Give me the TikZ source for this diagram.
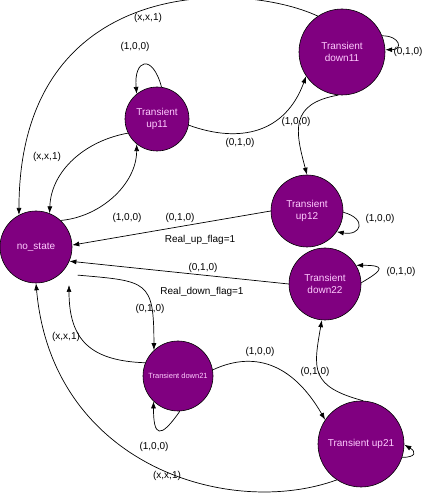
\documentclass[tikz,border=0pt]{standalone}
\usepackage{xcolor}
\usepackage{fontspec}
\setmainfont{Liberation Sans}
\usepackage{tikz}
\usetikzlibrary{arrows.meta}
\tikzset{every picture/.append style={font=\fontsize{10}{12.5}\selectfont}}
\definecolor{statepurple}{HTML}{800080}
\definecolor{statepink}{HTML}{FFCCFF}
\tikzset{
  statenode/.style={circle,draw=black,line width=0.6pt,fill=statepurple,text=statepink,align=center,inner sep=0pt},
  trans/.style={-{Latex[length=7pt,width=5pt]},line width=0.7pt},
  lbl/.style={inner sep=1pt}
}

\begin{document}
\begin{tikzpicture}[x=1pt,y=1pt]
    \useasboundingbox (0,0) rectangle (425,495);
    \node[statenode,minimum size=72pt] (nostate) at (36,248) {no\_state};
    \node[statenode,minimum size=64pt] (up11) at (157,376) {Transient\\up11};
    \node[statenode,minimum size=86pt] (down11) at (342,443) {Transient\\down11};
    \node[statenode,minimum size=72pt] (up12) at (307,284) {Transient\\up12};
    \node[statenode,minimum size=72pt] (down22) at (325,211) {Transient\\down22};
    \node[statenode,minimum size=70pt,font=\fontsize{7.5}{9}\selectfont] (down21) at (178,119) {Transient down21};
    \node[statenode,minimum size=86pt] (up21) at (361,51) {Transient up21};
    % transitions
    \draw[trans] (down11.124) to[out=155,in=90,out distance=85pt,in distance=240pt] (nostate.118);
    \draw[trans] (up11.82) to[out=105,in=95,distance=35pt] (up11.129);
    \draw[trans] (up11.206) to[out=190,in=88,distance=43pt] (nostate.68);
    \draw[trans] (nostate.47) to[out=5,in=270,distance=40pt] (up11.231);
    \draw[trans] (up11.-11) to[out=-20,in=250,out distance=55pt,in distance=60pt] (down11.214);
    \draw[trans] (down11.22) to[out=0,in=0,distance=18pt] (down11.3);
    \draw[trans] (down11.265) to[out=190,in=105,out distance=50pt,in distance=45pt] (up12.90);
    \draw[trans] (up12.180) -- (nostate.3);
    \draw[trans] (up12.-2) to[out=-15,in=-10,distance=25pt] (up12.-35);
    \draw[trans] (down22.180) -- (nostate.-23);
    \draw[trans] (down22.2) to[out=30,in=0,distance=28pt] (down22.31);
    \draw[trans] ([shift={(-34:14pt)}]nostate.-34) to[out=-5,in=90,distance=70pt] (down21.133);
    \draw[trans] (down21.158) to[out=178,in=-90,distance=55pt] ([shift={(-49:14pt)}]nostate.-49);
    \draw[trans] (down21.273) to[out=235,in=270,distance=35pt] (down21.226);
    \draw[trans] (down21.10) to[out=25,in=120,out distance=50pt,in distance=60pt] (up21.146);
    \draw[trans] (up21.87) to[out=165,in=-100,out distance=55pt,in distance=50pt] (down22.265);
    \draw[trans] (up21.-18) to[out=0,in=-30,distance=14pt] (up21.-1);
    \draw[trans] (up21.236) to[out=200,in=-85,out distance=114pt,in distance=183pt] (nostate.270);
    % labels
    \node[lbl] (ltop) at (148,477) {(x,x,1)};
    \node[lbl] (lupself) at (135,448) {(1,0,0)};
    \node[lbl] (lupback) at (47,338) {(x,x,1)};
    \node[lbl] (lupin) at (127,277) {(1,0,0)};
    \node[lbl] (lupflag) at (180,277) {(0,1,0)};
    \node[lbl] (lrealup) at (200,255) {Real\_up\_flag=1};
    \node[lbl] (lupdown) at (240,352) {(0,1,0)};
    \node[lbl] (ldownup) at (296,373) {(1,0,0)};
    \node[lbl] (ldownself) at (408,443) {(0,1,0)};
    \node[lbl] (lup12self) at (380,276) {(1,0,0)};
    \node[lbl] (ldownflag) at (203,227) {(0,1,0)};
    \node[lbl] (lrealdown) at (202,203) {Real\_down\_flag=1};
    \node[lbl] (ldown22self) at (401,223) {(0,1,0)};
    \node[lbl] (ldownin) at (150,186) {(0,1,0)};
    \node[lbl] (ldownback) at (66,158) {(x,x,1)};
    \node[lbl] (ldown21self) at (154,48) {(1,0,0)};
    \node[lbl] (lbottom) at (167,19) {(x,x,1)};
    \node[lbl] (ldownright) at (260,143) {(1,0,0)};
    \node[lbl] (lupright) at (315,123) {(0,1,0)};
  \end{tikzpicture}
\end{document}
